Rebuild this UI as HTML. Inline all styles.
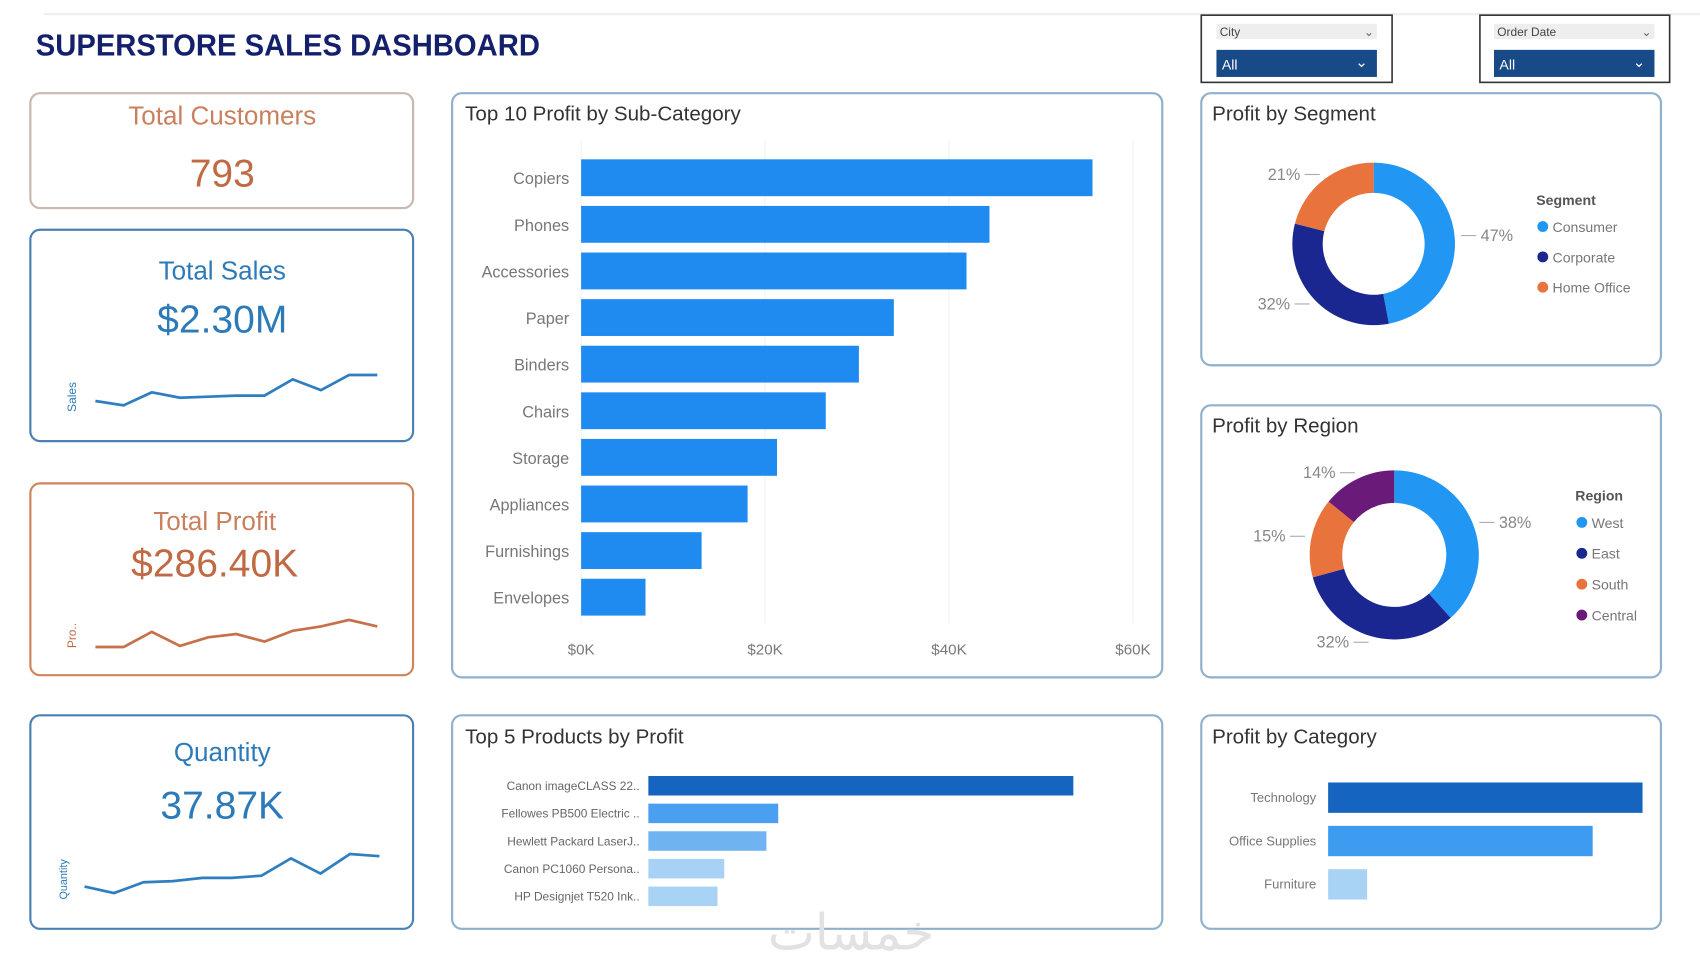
<!DOCTYPE html>
<html><head><meta charset="utf-8">
<style>
html,body{margin:0;padding:0;background:#fff;width:1700px;height:970px;overflow:hidden}
svg{display:block;font-family:"Liberation Sans","Noto Sans CJK SC",sans-serif}
</style></head>
<body>
<svg id="dash" width="1700" height="970" viewBox="0 0 1568 895" preserveAspectRatio="none" xmlns="http://www.w3.org/2000/svg">
<rect x="0" y="0" width="1568" height="895" fill="#fff"/>
<line x1="40" y1="13" x2="1568" y2="13" stroke="#eee" stroke-width="2"/>
<text x="33" y="51" font-size="28" font-weight="bold" fill="#14206b" textLength="465" lengthAdjust="spacingAndGlyphs">SUPERSTORE SALES DASHBOARD</text>

<g>
<rect x="1108" y="14" width="176" height="62" fill="#fff" stroke="#333" stroke-width="1.5"/>
<rect x="1122" y="22" width="148" height="14" fill="#eee"/>
<text x="1125" y="33" font-size="11" fill="#444">City</text>
<text x="1258" y="33" font-size="11" fill="#666">⌄</text>
<rect x="1122" y="46" width="148" height="25" fill="#174a86"/>
<text x="1127" y="64" font-size="13" fill="#fff">All</text>
<text x="1250" y="62" font-size="14" fill="#fff">⌄</text>
</g>
<g>
<rect x="1365" y="14" width="175" height="62" fill="#fff" stroke="#333" stroke-width="1.5"/>
<rect x="1378" y="22" width="148" height="14" fill="#eee"/>
<text x="1381" y="33" font-size="11" fill="#444">Order Date</text>
<text x="1514" y="33" font-size="11" fill="#666">⌄</text>
<rect x="1378" y="46" width="148" height="25" fill="#174a86"/>
<text x="1383" y="64" font-size="13" fill="#fff">All</text>
<text x="1506" y="62" font-size="14" fill="#fff">⌄</text>
</g>

<g>
<rect x="28" y="86" width="353" height="106" rx="9" fill="#fff" stroke="#c8b8b0" stroke-width="2"/>
<text x="205" y="115" font-size="24" text-anchor="middle" fill="#c8805e">Total Customers</text>
<text x="205" y="172" font-size="36" text-anchor="middle" fill="#c06a44">793</text>
</g>
<g>
<rect x="28" y="212" width="353" height="195" rx="9" fill="#fff" stroke="#4a80b4" stroke-width="2"/>
<text x="205" y="258" font-size="24" text-anchor="middle" fill="#2d7ab8">Total Sales</text>
<text x="205" y="307" font-size="36" text-anchor="middle" fill="#2d7ab8">$2.30M</text>
<text x="0" y="0" font-size="11" fill="#2d7ab8" transform="translate(70,380) rotate(-90)">Sales</text>
<polyline id="spark-sales" fill="none" stroke="#2f7fc0" stroke-width="2.5"/>
</g>
<g>
<rect x="28" y="446" width="353" height="177" rx="9" fill="#fff" stroke="#d0845a" stroke-width="2"/>
<text x="198" y="489" font-size="24" text-anchor="middle" fill="#c8805e">Total Profit</text>
<text x="198" y="532" font-size="36" text-anchor="middle" fill="#c06a44">$286.40K</text>
<text x="0" y="0" font-size="11" fill="#c06a44" transform="translate(70,598) rotate(-90)">Pro..</text>
<polyline id="spark-profit" fill="none" stroke="#c8704a" stroke-width="2.5"/>
</g>
<g>
<rect x="28" y="660" width="353" height="197" rx="9" fill="#fff" stroke="#4a80b4" stroke-width="2"/>
<text x="205" y="702" font-size="24" text-anchor="middle" fill="#2d7ab8">Quantity</text>
<text x="205" y="755" font-size="36" text-anchor="middle" fill="#2d7ab8">37.87K</text>
<text x="0" y="0" font-size="10" fill="#2d7ab8" transform="translate(62,830) rotate(-90)">Quantity</text>
<polyline id="spark-qty" fill="none" stroke="#2f7fc0" stroke-width="2.5"/>
</g>

<g>
<rect x="417" y="86" width="655" height="539" rx="9" fill="#fff" stroke="#8fb0cc" stroke-width="2"/>
<text x="429" y="111" font-size="19" fill="#333">Top 10 Profit by Sub-Category</text>
<g id="top10"></g>
</g>
<g>
<rect x="417" y="660" width="655" height="197" rx="9" fill="#fff" stroke="#8fb0cc" stroke-width="2"/>
<text x="429" y="686" font-size="19" fill="#333">Top 5 Products by Profit</text>
<g id="top5"></g>
</g>
<g>
<rect x="1108" y="86" width="424" height="251" rx="9" fill="#fff" stroke="#8fb0cc" stroke-width="2"/>
<text x="1118" y="111" font-size="19" fill="#333">Profit by Segment</text>
<g id="seg"></g>
</g>
<g>
<rect x="1108" y="374" width="424" height="251" rx="9" fill="#fff" stroke="#8fb0cc" stroke-width="2"/>
<text x="1118" y="399" font-size="19" fill="#333">Profit by Region</text>
<g id="reg"></g>
</g>
<g>
<rect x="1108" y="660" width="424" height="197" rx="9" fill="#fff" stroke="#8fb0cc" stroke-width="2"/>
<text x="1118" y="686" font-size="19" fill="#333">Profit by Category</text>
<g id="cat"></g>
</g>
<text x="785" y="876" font-size="46" text-anchor="middle" fill="#e2e2e2" font-family="'Noto Sans CJK SC',sans-serif">خمسات</text>
</svg>
<script>
const NS="http://www.w3.org/2000/svg";
const salesSpark=[370,374,362,367,366,365,365,350,360,346,346];
const profitSpark=[597,597,583,596,588,585,592,582,578,572,578];
const qtySpark=[818,824,814,813,810,810,808,792,806,788,790];
const subCats=["Copiers","Phones","Accessories","Paper","Binders","Chairs","Storage","Appliances","Furnishings","Envelopes"];
const subProfit=[55.6,44.4,41.9,34.0,30.2,26.6,21.3,18.1,13.1,7.0];
const subTicks=[0,20,40,60];
const subTickLabels=["$0K","$20K","$40K","$60K"];
const products=["Canon imageCLASS 22..","Fellowes PB500 Electric ..","Hewlett Packard LaserJ..","Canon PC1060 Persona..","HP Designjet T520 Ink.."];
const productProfit=[25.2,7.7,7.0,4.5,4.1];
const categories=["Technology","Office Supplies","Furniture"];
const categoryProfit=[145,122,18];
const segments=["Consumer","Corporate","Home Office"];
const segmentPct=[47,32,21];
const regions=["West","East","South","Central"];
const regionPct=[38,32,15,14];

function mk(tag,attrs,parent,txt){const e=document.createElementNS(NS,tag);for(const k in attrs)e.setAttribute(k,attrs[k]);if(txt!==undefined)e.textContent=txt;parent.appendChild(e);return e;}

function spark(id,vals,x0,x1){const el=document.getElementById(id);const s=(x1-x0)/(vals.length-1);el.setAttribute('points',vals.map((v,i)=>(x0+i*s)+','+v).join(' '));}
spark('spark-sales',salesSpark,88,348);
spark('spark-profit',profitSpark,88,348);
spark('spark-qty',qtySpark,78,350);

(function(){const g=document.getElementById('top10');const x=v=>536+v*(1045-536)/60;
subTicks.forEach((t,i)=>{mk('line',{x1:x(t),y1:130,x2:x(t),y2:575,stroke:'#f2f2f2'},g);
const tl=mk('text',{x:x(t),y:604,'font-size':14,fill:'#777','text-anchor':'middle'},g,subTickLabels[i]);

});
subCats.forEach((c,i)=>{const cy=164+i*43;
const lb=mk('text',{x:525,y:cy+6,'font-size':15,fill:'#777','text-anchor':'end'},g,c);


const b=mk('rect',{x:536,y:cy-17,width:x(subProfit[i])-536,height:34,fill:'#1f8bf0'},g);

});})();

(function(){const g=document.getElementById('top5');const x=v=>598+v*392/25.2;const cols=['#1565c0','#4a9ff0','#6fb3f0','#a7d2f5','#a9d3f5'];
products.forEach((p,i)=>{const cy=725+i*25.5;
const lb=mk('text',{x:590,y:cy+4,'font-size':11,fill:'#666','text-anchor':'end'},g,p);


const b=mk('rect',{x:598,y:cy-9,width:x(productProfit[i])-598,height:18,fill:cols[i]},g);

});})();

(function(){const g=document.getElementById('cat');const x=v=>1225+v*2.0;const cols=['#1565c0','#3d9bf0','#a9d3f5'];
categories.forEach((c,i)=>{const cy=736+i*40;
const lb=mk('text',{x:1214,y:cy+4,'font-size':12,fill:'#777','text-anchor':'end'},g,c);


const b=mk('rect',{x:1225,y:cy-14,width:x(categoryProfit[i])-1225,height:28,fill:cols[i]},g);

});})();

function donut(gid,names,pcts,cols,cx,cy,ro,ri,legX,legY,legTitle,legStep){
const g=document.getElementById(gid);const tot=pcts.reduce((a,b)=>a+b,0);let a0=-Math.PI/2;
pcts.forEach((p,i)=>{const a1=a0+p/tot*2*Math.PI;const lg=(a1-a0)>Math.PI?1:0;
const P=(r,a)=>(cx+r*Math.cos(a))+','+(cy+r*Math.sin(a));
const d='M'+P(ro,a0)+' A'+ro+','+ro+' 0 '+lg+' 1 '+P(ro,a1)+' L'+P(ri,a1)+' A'+ri+','+ri+' 0 '+lg+' 0 '+P(ri,a0)+' Z';
const s=mk('path',{d:d,fill:cols[i]},g);


const am=(a0+a1)/2;const c=Math.cos(am),sn=Math.sin(am);
const ex=cx+(ro+6)*c, ey=cy+(ro+6)*sn;const lx=ex+(c>0?14:-14);
mk('line',{x1:ex,y1:ey,x2:lx,y2:ey,stroke:'#aaa','stroke-width':1},g);
const t=mk('text',{x:lx+(c>0?4:-4),y:ey+5,'font-size':15,fill:'#888','text-anchor':c>0?'start':'end'},g,p+'%');


a0=a1;});
const tt=mk('text',{x:legX-6,y:legY,'font-size':13,'font-weight':'bold',fill:'#555'},g,legTitle);


names.forEach((n,i)=>{const y=legY+24+i*legStep;
mk('circle',{cx:legX,cy:y-4,r:5,fill:cols[i]},g);
const e=mk('text',{x:legX+9,y:y+1,'font-size':13,fill:'#777'},g,n);

});}
donut('seg',segments,segmentPct,['#2196f3','#1a2790','#e8733c'],1267,225,75,47,1423,189,'Segment',28);
donut('reg',regions,regionPct,['#2196f3','#1a2790','#e8733c','#6a1a78'],1286,512,78,48,1459,462,'Region',28.5);
</script>
</body></html>
